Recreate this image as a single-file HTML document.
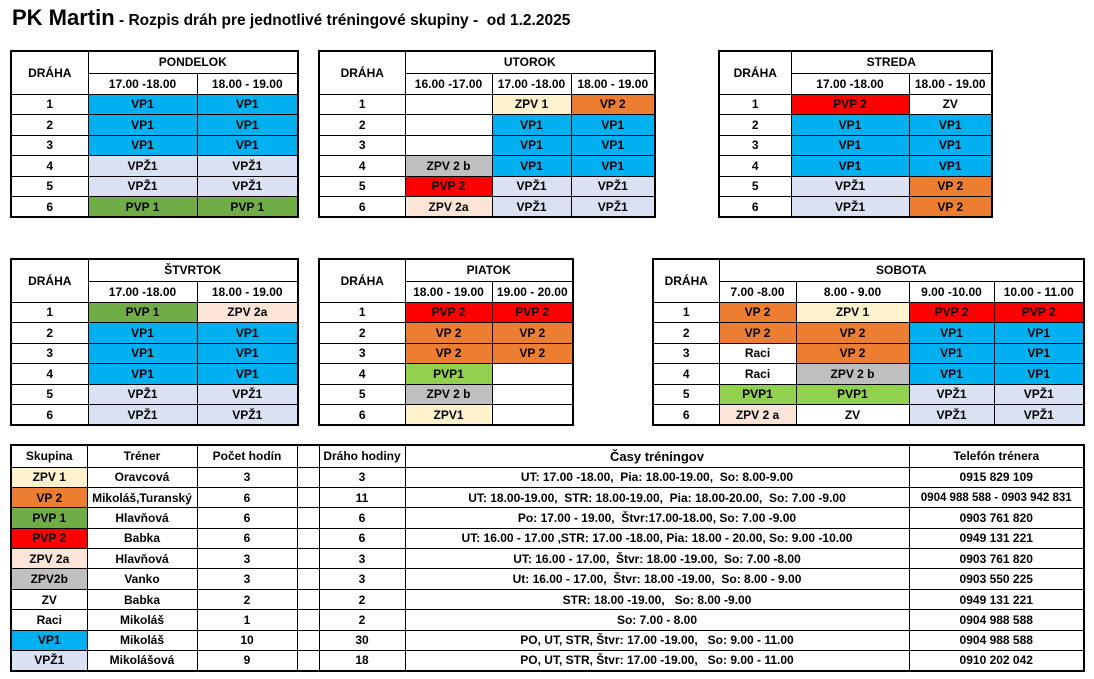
<!DOCTYPE html>
<html><head><meta charset="utf-8"><style>
body{margin:0;width:1094px;height:679px;background:#fff;position:relative;overflow:hidden;font-family:"Liberation Sans",sans-serif;font-weight:bold;color:#000}
#title{position:absolute;left:12px;top:5px;white-space:nowrap}
#title .ta{font-size:22px}#title .tb{font-size:15.5px}
table{position:absolute;border-collapse:collapse;table-layout:fixed;border:2px solid #000;font-size:12px}
td{border:1px solid #000;text-align:center;padding:0;white-space:nowrap;overflow:hidden}
.b{background:#00b0f0}.l{background:#d9e1f2}.g{background:#70ad47}.o{background:#ed7d31}.r{background:#ff0000}.y{background:#fff2cc}.p{background:#fce4d6}.s{background:#bfbfbf}.lg{background:#92d050}
tr.h1{height:22px}tr.h2{height:21px}tr.d{height:20.5px}
#bottom tr{height:20.4px}
#bottom tr.hd{height:22px}
</style></head><body>
<div id="title"><span class="ta">PK Martin</span><span class="tb"> - Rozpis dráh pre jednotlivé tréningové skupiny -&nbsp; od 1.2.2025</span></div>

<table style="left:10px;top:50px;width:287px">
<colgroup><col style="width:77px"><col style="width:109px"><col style="width:101px"></colgroup>
<tr class="h1"><td rowspan="2">DRÁHA</td><td colspan="2">PONDELOK</td></tr>
<tr class="h2"><td>17.00 -18.00</td><td>18.00 - 19.00</td></tr>
<tr class="d"><td>1</td><td class="b">VP1</td><td class="b">VP1</td></tr>
<tr class="d"><td>2</td><td class="b">VP1</td><td class="b">VP1</td></tr>
<tr class="d"><td>3</td><td class="b">VP1</td><td class="b">VP1</td></tr>
<tr class="d"><td>4</td><td class="l">VPŽ1</td><td class="l">VPŽ1</td></tr>
<tr class="d"><td>5</td><td class="l">VPŽ1</td><td class="l">VPŽ1</td></tr>
<tr class="d"><td>6</td><td class="g">PVP 1</td><td class="g">PVP 1</td></tr>
</table>

<table style="left:318px;top:50px;width:336px">
<colgroup><col style="width:86px"><col style="width:87px"><col style="width:79px"><col style="width:84px"></colgroup>
<tr class="h1"><td rowspan="2">DRÁHA</td><td colspan="3">UTOROK</td></tr>
<tr class="h2"><td>16.00 -17.00</td><td>17.00 -18.00</td><td>18.00 - 19.00</td></tr>
<tr class="d"><td>1</td><td></td><td class="y">ZPV 1</td><td class="o">VP 2</td></tr>
<tr class="d"><td>2</td><td></td><td class="b">VP1</td><td class="b">VP1</td></tr>
<tr class="d"><td>3</td><td></td><td class="b">VP1</td><td class="b">VP1</td></tr>
<tr class="d"><td>4</td><td class="s">ZPV 2 b</td><td class="b">VP1</td><td class="b">VP1</td></tr>
<tr class="d"><td>5</td><td class="r">PVP 2</td><td class="l">VPŽ1</td><td class="l">VPŽ1</td></tr>
<tr class="d"><td>6</td><td class="p">ZPV 2a</td><td class="l">VPŽ1</td><td class="l">VPŽ1</td></tr>
</table>

<table style="left:718px;top:50px;width:273px">
<colgroup><col style="width:72px"><col style="width:118px"><col style="width:83px"></colgroup>
<tr class="h1"><td rowspan="2">DRÁHA</td><td colspan="2">STREDA</td></tr>
<tr class="h2"><td>17.00 -18.00</td><td>18.00 - 19.00</td></tr>
<tr class="d"><td>1</td><td class="r">PVP 2</td><td>ZV</td></tr>
<tr class="d"><td>2</td><td class="b">VP1</td><td class="b">VP1</td></tr>
<tr class="d"><td>3</td><td class="b">VP1</td><td class="b">VP1</td></tr>
<tr class="d"><td>4</td><td class="b">VP1</td><td class="b">VP1</td></tr>
<tr class="d"><td>5</td><td class="l">VPŽ1</td><td class="o">VP 2</td></tr>
<tr class="d"><td>6</td><td class="l">VPŽ1</td><td class="o">VP 2</td></tr>
</table>

<table style="left:10px;top:258px;width:287px">
<colgroup><col style="width:77px"><col style="width:109px"><col style="width:101px"></colgroup>
<tr class="h1"><td rowspan="2">DRÁHA</td><td colspan="2">ŠTVRTOK</td></tr>
<tr class="h2"><td>17.00 -18.00</td><td>18.00 - 19.00</td></tr>
<tr class="d"><td>1</td><td class="g">PVP 1</td><td class="p">ZPV 2a</td></tr>
<tr class="d"><td>2</td><td class="b">VP1</td><td class="b">VP1</td></tr>
<tr class="d"><td>3</td><td class="b">VP1</td><td class="b">VP1</td></tr>
<tr class="d"><td>4</td><td class="b">VP1</td><td class="b">VP1</td></tr>
<tr class="d"><td>5</td><td class="l">VPŽ1</td><td class="l">VPŽ1</td></tr>
<tr class="d"><td>6</td><td class="l">VPŽ1</td><td class="l">VPŽ1</td></tr>
</table>

<table style="left:318px;top:258px;width:254px">
<colgroup><col style="width:86px"><col style="width:87px"><col style="width:81px"></colgroup>
<tr class="h1"><td rowspan="2">DRÁHA</td><td colspan="2">PIATOK</td></tr>
<tr class="h2"><td>18.00 - 19.00</td><td>19.00 - 20.00</td></tr>
<tr class="d"><td>1</td><td class="r">PVP 2</td><td class="r">PVP 2</td></tr>
<tr class="d"><td>2</td><td class="o">VP 2</td><td class="o">VP 2</td></tr>
<tr class="d"><td>3</td><td class="o">VP 2</td><td class="o">VP 2</td></tr>
<tr class="d"><td>4</td><td class="lg">PVP1</td><td></td></tr>
<tr class="d"><td>5</td><td class="s">ZPV 2 b</td><td></td></tr>
<tr class="d"><td>6</td><td class="y">ZPV1</td><td></td></tr>
</table>

<table style="left:652px;top:258px;width:431px">
<colgroup><col style="width:66px"><col style="width:77px"><col style="width:113px"><col style="width:85px"><col style="width:90px"></colgroup>
<tr class="h1"><td rowspan="2">DRÁHA</td><td colspan="4">SOBOTA</td></tr>
<tr class="h2"><td>7.00 -8.00</td><td>8.00 - 9.00</td><td>9.00 -10.00</td><td>10.00 - 11.00</td></tr>
<tr class="d"><td>1</td><td class="o">VP 2</td><td class="y">ZPV 1</td><td class="r">PVP 2</td><td class="r">PVP 2</td></tr>
<tr class="d"><td>2</td><td class="o">VP 2</td><td class="o">VP 2</td><td class="b">VP1</td><td class="b">VP1</td></tr>
<tr class="d"><td>3</td><td>Raci</td><td class="o">VP 2</td><td class="b">VP1</td><td class="b">VP1</td></tr>
<tr class="d"><td>4</td><td>Raci</td><td class="s">ZPV 2 b</td><td class="b">VP1</td><td class="b">VP1</td></tr>
<tr class="d"><td>5</td><td class="lg">PVP1</td><td class="lg">PVP1</td><td class="l">VPŽ1</td><td class="l">VPŽ1</td></tr>
<tr class="d"><td>6</td><td class="p">ZPV 2 a</td><td>ZV</td><td class="l">VPŽ1</td><td class="l">VPŽ1</td></tr>
</table>

<table id="bottom" style="left:10px;top:444px;width:1073px">
<colgroup><col style="width:76px"><col style="width:110px"><col style="width:100px"><col style="width:22px"><col style="width:86px"><col style="width:504px"><col style="width:175px"></colgroup>
<tr class="hd"><td>Skupina</td><td>Tréner</td><td>Počet hodín</td><td></td><td>Dráho hodiny</td><td style="font-size:13px">Časy tréningov</td><td>Telefón trénera</td></tr>
<tr><td class="y">ZPV 1</td><td>Oravcová</td><td>3</td><td></td><td>3</td><td>UT: 17.00 -18.00,&nbsp; Pia: 18.00-19.00,&nbsp; So: 8.00-9.00</td><td>0915 829 109</td></tr>
<tr><td class="o">VP 2</td><td>Mikoláš,Turanský</td><td>6</td><td></td><td>11</td><td>UT: 18.00-19.00,&nbsp; STR: 18.00-19.00,&nbsp; Pia: 18.00-20.00,&nbsp; So: 7.00 -9.00</td><td style="font-size:11.5px">0904 988 588 - 0903 942 831</td></tr>
<tr><td class="g">PVP 1</td><td>Hlavňová</td><td>6</td><td></td><td>6</td><td>Po: 17.00 - 19.00,&nbsp; Štvr:17.00-18.00, So: 7.00 -9.00</td><td>0903 761 820</td></tr>
<tr><td class="r">PVP 2</td><td>Babka</td><td>6</td><td></td><td>6</td><td>UT: 16.00 - 17.00 ,STR: 17.00 -18.00, Pia: 18.00 - 20.00, So: 9.00 -10.00</td><td>0949 131 221</td></tr>
<tr><td class="p">ZPV 2a</td><td>Hlavňová</td><td>3</td><td></td><td>3</td><td>UT: 16.00 - 17.00,&nbsp; Štvr: 18.00 -19.00,&nbsp; So: 7.00 -8.00</td><td>0903 761 820</td></tr>
<tr><td class="s">ZPV2b</td><td>Vanko</td><td>3</td><td></td><td>3</td><td>Ut: 16.00 - 17.00,&nbsp; Štvr: 18.00 -19.00,&nbsp; So: 8.00 - 9.00</td><td>0903 550 225</td></tr>
<tr><td>ZV</td><td>Babka</td><td>2</td><td></td><td>2</td><td>STR: 18.00 -19.00,&nbsp;&nbsp; So: 8.00 -9.00</td><td>0949 131 221</td></tr>
<tr><td>Raci</td><td>Mikoláš</td><td>1</td><td></td><td>2</td><td>So: 7.00 - 8.00</td><td>0904 988 588</td></tr>
<tr><td class="b">VP1</td><td>Mikoláš</td><td>10</td><td></td><td>30</td><td>PO, UT, STR, Štvr: 17.00 -19.00,&nbsp;&nbsp; So: 9.00 - 11.00</td><td>0904 988 588</td></tr>
<tr><td class="l">VPŽ1</td><td>Mikolášová</td><td>9</td><td></td><td>18</td><td>PO, UT, STR, Štvr: 17.00 -19.00,&nbsp;&nbsp; So: 9.00 - 11.00</td><td>0910 202 042</td></tr>
</table>
</body></html>
